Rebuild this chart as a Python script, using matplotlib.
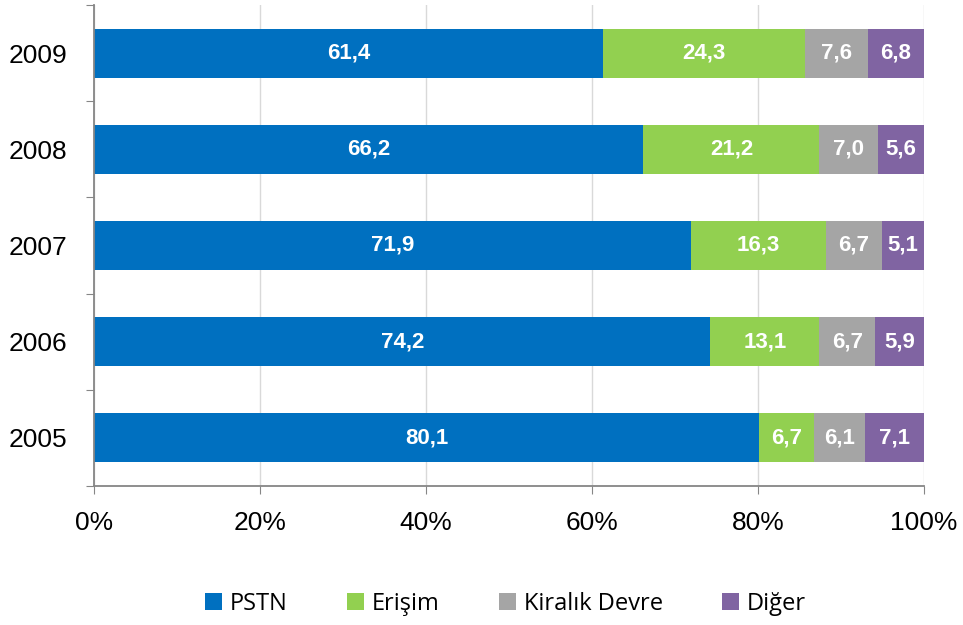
import matplotlib.pyplot as plt
import numpy as np

years = ["2005", "2006", "2007", "2008", "2009"]
pstn = [80.1, 74.2, 71.9, 66.2, 61.4]
erisim = [6.7, 13.1, 16.3, 21.2, 24.3]
kiralik = [6.1, 6.7, 6.7, 7.0, 7.6]
diger = [7.1, 5.9, 5.1, 5.6, 6.8]

series = [("PSTN", pstn, "#0070c0"),
          ("Erişim", erisim, "#92d050"),
          ("Kiralık Devre", kiralik, "#a5a5a5"),
          ("Diğer", diger, "#8064a2")]

fig = plt.figure(figsize=(9.63, 6.25), dpi=100)
ax = fig.add_axes([94 / 963, 1 - 486 / 625, 830 / 963, 481 / 625])

y = np.arange(len(years))
totals = np.sum([s[1] for s in series], axis=0)
left = np.zeros(len(years))
for name, vals, col in series:
    w = np.array(vals) / totals * 100
    ax.barh(y, w, left=left, height=0.51, color=col, label=name, zorder=2)
    for yi, li, wi, v in zip(y, left, w, vals):
        ax.text(li + wi / 2, yi, f"{v:.1f}".replace(".", ","), ha="center", va="center",
                color="white", fontsize=16, fontweight="bold", family="Liberation Sans", zorder=3)
    left += w

ax.set_xlim(0, 100)
ax.set_ylim(-0.5, len(years) - 0.5)
ax.set_xticks(range(0, 101, 20))
ax.set_xticklabels([f"{v}%" for v in range(0, 101, 20)], family="Liberation Sans", fontsize=19)
ax.xaxis.grid(True, color="#d9d9d9", linewidth=1, zorder=0)
ax.set_axisbelow(True)

ax.set_yticks(np.arange(-0.5, len(years), 1))
ax.set_yticklabels([])
ax.set_yticks(y, minor=True)
ax.set_yticklabels(years, minor=True, family="Liberation Sans", fontsize=19)
ax.tick_params(axis="y", which="minor", length=0, pad=19)
ax.tick_params(axis="y", which="major", length=6, color="#868686")
ax.tick_params(axis="x", length=6, color="#868686", pad=12)

for s in ["top", "right"]:
    ax.spines[s].set_visible(False)
for s in ["left", "bottom"]:
    ax.spines[s].set_color("#868686")
    ax.spines[s].set_linewidth(1.3)

fig.legend(loc="center", bbox_to_anchor=(0.525, 0.034), ncol=4, frameon=False,
           prop={"family": "Open Sans", "size": 17}, handlelength=0.72, handleheight=0.72,
           handletextpad=0.34, columnspacing=2.5)

plt.savefig("out.png", dpi=100)
